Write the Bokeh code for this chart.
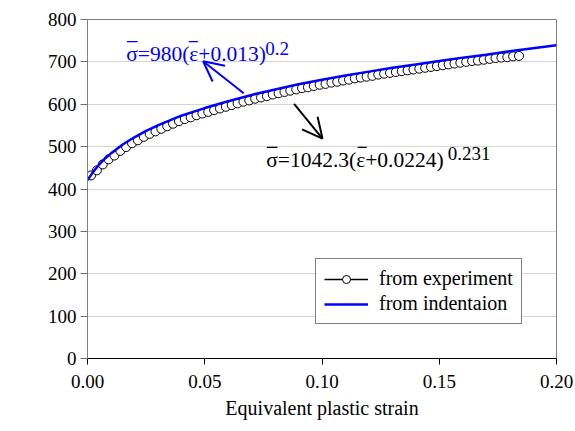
from math import pi

from bokeh.embed import file_html
from bokeh.models import (Arrow, FixedTicker, Label, Legend, LegendItem,
                          OpenHead, PrintfTickFormatter, Range1d, Span)
from bokeh.plotting import figure
from bokeh.resources import INLINE

# Measured flow curve (open circles)
exp_strain = [0.0015, 0.0040, 0.0065, 0.0090, 0.0115, 0.0140, 0.0165, 0.0190,
              0.0215, 0.0240, 0.0265, 0.0290, 0.0315, 0.0340, 0.0365, 0.0390,
              0.0415, 0.0440, 0.0465, 0.0490, 0.0515, 0.0540, 0.0565, 0.0590,
              0.0615, 0.0640, 0.0665, 0.0690, 0.0715, 0.0740, 0.0765, 0.0790,
              0.0815, 0.0840, 0.0865, 0.0890, 0.0915, 0.0940, 0.0965, 0.0990,
              0.1015, 0.1040, 0.1065, 0.1090, 0.1115, 0.1140, 0.1165, 0.1190,
              0.1215, 0.1240, 0.1265, 0.1290, 0.1315, 0.1340, 0.1365, 0.1390,
              0.1415, 0.1440, 0.1465, 0.1490, 0.1515, 0.1540, 0.1565, 0.1590,
              0.1615, 0.1640, 0.1665, 0.1690, 0.1715, 0.1740, 0.1765, 0.1790,
              0.1815, 0.1840]
exp_stress = [432, 444, 458, 470, 479, 490, 499, 508,
              515, 523, 530, 536, 542, 548, 554, 560,
              565, 569, 574, 578, 582, 586, 590, 594,
              598, 602, 606, 609, 613, 616, 619, 623,
              626, 629, 632, 635, 638, 640, 643, 646,
              648, 651, 653, 656, 658, 661, 663, 665,
              667, 670, 672, 674, 676, 678, 680, 682,
              684, 686, 688, 690, 692, 694, 696, 698,
              700, 702, 703, 705, 707, 709, 710, 711,
              713, 714]

# Flow curve identified from indentation (blue line)
ind_strain = [0.0, 0.0025, 0.005, 0.0075, 0.01, 0.015, 0.02, 0.025, 0.03,
              0.04, 0.05, 0.06, 0.07, 0.08, 0.09, 0.10, 0.11, 0.12, 0.13,
              0.14, 0.15, 0.16, 0.17, 0.18, 0.19, 0.20]
ind_stress = [421, 441, 458, 472, 484, 505, 522, 537, 550,
              573, 591, 607, 622, 635, 647, 658, 668, 677, 686,
              694, 702, 710, 717, 725, 732, 739]

x_ticks = [0.0, 0.05, 0.10, 0.15, 0.20]
y_ticks = [0, 100, 200, 300, 400, 500, 600, 700, 800]

FONT = "Liberation Serif"
BLUE = "#0000ff"

p = figure(width=575, height=431, output_backend="svg", toolbar_location=None,
           x_range=Range1d(0, 0.2), y_range=Range1d(0, 800),
           min_border_left=87, min_border_right=19,
           min_border_top=19, min_border_bottom=73)
p.outline_line_color = None
p.background_fill_color = "white"
p.border_fill_color = "white"

p.xgrid.visible = False
p.ygrid.ticker = FixedTicker(ticks=y_ticks)
p.ygrid.grid_line_color = "#d4d4d4"
p.ygrid.grid_line_width = 1

xa = p.xaxis[0]
xa.ticker = FixedTicker(ticks=x_ticks)
xa.formatter = PrintfTickFormatter(format="%.2f")
xa.axis_line_color = "black"
xa.major_tick_line_color = "black"
xa.major_tick_in = 0
xa.major_tick_out = 6
xa.minor_tick_line_color = None
xa.major_label_text_font = FONT
xa.major_label_text_font_size = "19px"
xa.major_label_text_color = "black"
xa.major_label_standoff = 10
xa.axis_label = "Equivalent plastic strain"
xa.axis_label_text_font = FONT
xa.axis_label_text_font_size = "20px"
xa.axis_label_text_font_style = "normal"
xa.axis_label_text_color = "black"
xa.axis_label_standoff = 6

ya = p.yaxis[0]
ya.ticker = FixedTicker(ticks=y_ticks)
ya.axis_line_color = "#808080"
ya.major_tick_line_color = "#707070"
ya.major_tick_in = 0
ya.major_tick_out = 7
ya.minor_tick_line_color = None
ya.major_label_text_font = FONT
ya.major_label_text_font_size = "19px"
ya.major_label_text_color = "black"
ya.major_label_standoff = 4

# top and right edges of the frame
p.add_layout(Span(location=800, dimension="width", line_color="black", line_width=1))
p.add_layout(Span(location=0.2, dimension="height", line_color="black", line_width=1))

exp_line = p.line(exp_strain, exp_stress, line_color="black", line_width=1.5)
exp_pts = p.scatter(exp_strain, exp_stress, marker="circle", size=9,
                    fill_color="white", line_color="black", line_width=1)
ind_line = p.line(ind_strain, ind_stress, line_color=BLUE, line_width=2.5)

# y-axis title
p.add_layout(Label(x=-0.0279, y=427, text="True stress(MPa)", angle=pi / 2,
                   text_align="center", text_baseline="middle",
                   text_font=FONT, text_font_size="16px", text_color="black"))


def equation(x, y, body, power, sup_x, sup_y, bars, color):
    """Fitted power law: body text, raised exponent and overbars on sigma/epsilon."""
    p.add_layout(Label(x=x, y=y, text=body, text_align="left",
                       text_baseline="alphabetic", text_font=FONT,
                       text_font_size="21.5px", text_color=color))
    p.add_layout(Label(x=sup_x, y=sup_y, text=power, text_align="left",
                       text_baseline="alphabetic", text_font=FONT,
                       text_font_size="19px", text_color=color))
    for x0, x1, yb in bars:
        p.segment(x0=[x0], y0=[yb], x1=[x1], y1=[yb], line_color=color, line_width=1.3)


# indentation fit, pointing at the blue line
p.add_layout(Arrow(x_start=0.0666, y_start=626, x_end=0.0493, y_end=701.5,
                   line_color=BLUE, line_width=2,
                   end=OpenHead(size=20, line_color=BLUE, line_width=2)))
equation(0.0165, 719, "\u03c3=980(\u03b5+0.013)", "0.2", 0.0758, 732,
         [(0.0168, 0.0214, 748), (0.0432, 0.0471, 748)], BLUE)

# experimental fit, pointing at the circles
p.add_layout(Arrow(x_start=0.0881, y_start=601, x_end=0.1002, y_end=519,
                   line_color="black", line_width=2,
                   end=OpenHead(size=20, line_color="black", line_width=2)))
equation(0.0762, 468.5, "\u03c3=1042.3(\u03b5+0.0224)", "0.231", 0.1536, 484,
         [(0.0765, 0.0810, 498), (0.1152, 0.1191, 498)], "black")

legend = Legend(items=[LegendItem(label="from experiment", renderers=[exp_line, exp_pts]),
                       LegendItem(label="from indentaion", renderers=[ind_line])],
                location=(228, 34))
legend.label_text_font = FONT
legend.label_text_font_size = "20px"
legend.label_text_color = "black"
legend.glyph_width = 44
legend.glyph_height = 20
legend.label_standoff = 11
legend.label_height = 20
legend.padding = 8
legend.spacing = 2
legend.margin = 0
legend.border_line_color = "black"
legend.border_line_width = 1
legend.background_fill_color = "white"
legend.background_fill_alpha = 1
p.add_layout(legend)

open("out.html", "w").write(file_html(p, INLINE))
